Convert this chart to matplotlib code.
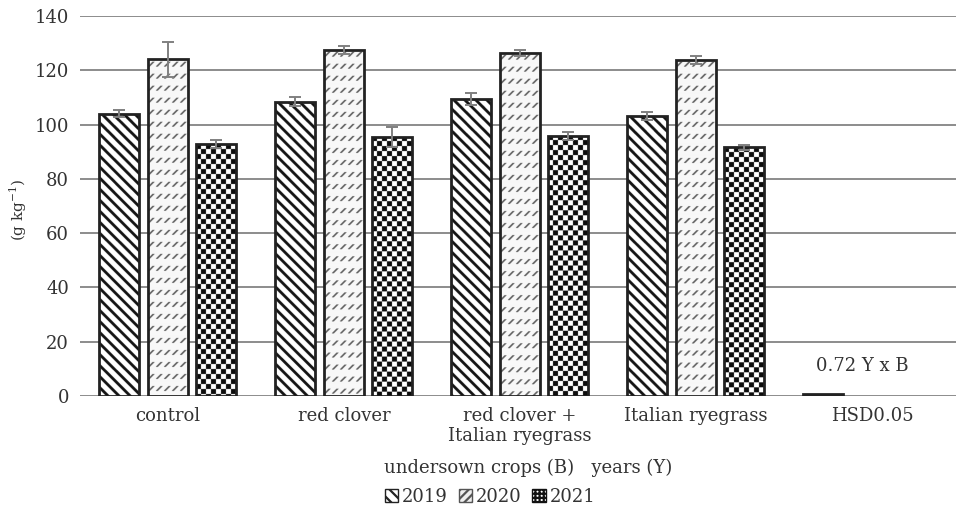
import matplotlib.pyplot as plt
import numpy as np
from matplotlib.patches import Patch

# data
categories = ['control', 'red clover', 'red clover +\nItalian ryegrass',
              'Italian ryegrass', 'HSD0.05']
years = ['2019', '2020', '2021']
mean_2019 = [104.0, 108.5, 109.3, 103.2]
mean_2020 = [124.0, 127.5, 126.5, 123.8]
mean_2021 = [92.8, 95.5, 95.8, 91.6]
err_2019 = [1.2, 1.5, 2.2, 1.5]
err_2020 = [6.3, 1.5, 1.1, 1.5]
err_2021 = [1.5, 3.7, 1.4, 0.9]
hsd_value = 0.72
hsd_label = '0.72 Y x B'

plt.rcParams['font.family'] = ['DejaVu Serif']
plt.rcParams['hatch.linewidth'] = 1.6
TXT = '#333333'
FS = 13


def pattern_image(kind, nx, ny, s):
    # r counts pixels from the top of the bar, c from its left side
    r, c = np.mgrid[0:ny, 0:nx] / s
    if kind == 'stripes':
        img = np.where(((c - r) % 11) < 4.0, 0.08, 1.0)
    elif kind == 'dashes':
        tc = c % 8
        tr = r % 12
        on = (np.abs(tc + tr - 8) < 1.2) & (tr >= 2.5) & (tr <= 7.5)
        img = np.where(on, 0.38, 0.97)
    else:
        img = np.where(((c // 5 + r // 5) % 2) == 0, 0.05, 1.0)
    return img


def fill_bar(ax, bar, kind):
    x0, w, h = bar.get_x(), bar.get_width(), bar.get_height()
    p0 = ax.transData.transform((x0, 0))
    p1 = ax.transData.transform((x0 + w, h))
    s = 3
    nx = max(1, int(round(abs(p1[0] - p0[0]) * s)))
    ny = max(1, int(round(abs(p1[1] - p0[1]) * s)))
    img = pattern_image(kind, nx, ny, s)
    im = ax.imshow(img, extent=(x0, x0 + w, 0, h), origin='upper', cmap='gray',
                   vmin=0, vmax=1, aspect='auto', interpolation='antialiased',
                   zorder=2)
    im.set_clip_path(bar)


fig = plt.figure(figsize=(9.56, 5.12), dpi=100)
ax = fig.add_axes([80 / 956, 116 / 512, 1 - 80 / 956, 380 / 512])
ax.set_xlim(-0.5, 4.477)
ax.set_ylim(0, 140)

x = np.arange(len(mean_2019))
width = 0.227
offsets = [-0.281, 0.0, 0.273]
series = [(mean_2019, err_2019, 'stripes'),
          (mean_2020, err_2020, 'dashes'),
          (mean_2021, err_2021, 'checker')]

for (vals, errs, kind), off in zip(series, offsets):
    bars = ax.bar(x + off, vals, width, facecolor='none', edgecolor='#222222',
                  linewidth=2, zorder=3)
    for b in bars:
        fill_bar(ax, b, kind)
    ax.errorbar(x + off, vals, yerr=errs, fmt='none', ecolor='#808080',
                elinewidth=1.4, capsize=4, capthick=1.4, zorder=4)

# HSD bar
hsd_x = len(mean_2019) + offsets[0]
ax.bar([hsd_x], [hsd_value], width, color='#222222', edgecolor='#222222',
       linewidth=2, zorder=3)
ax.text(len(mean_2019) - 0.057, 11, hsd_label, ha='center', va='center',
        fontsize=FS, color=TXT)

ax.set_xlim(-0.5, 4.477)
ax.set_ylim(0, 140)
ax.set_yticks(np.arange(0, 141, 20))
ax.set_xticks(np.arange(len(categories)))
ax.set_xticklabels(categories, fontsize=FS, color=TXT, linespacing=1.1)
ax.tick_params(axis='y', length=0, pad=8, labelsize=FS, labelcolor=TXT)
ax.tick_params(axis='x', length=0, pad=8)
ax.yaxis.grid(True, color='#6e6e6e', linewidth=1.1)
ax.set_axisbelow(True)
for sp in ax.spines.values():
    sp.set_visible(False)

fig.text(18 / 956, 1 - 210 / 512, '(g kg$^{\\mathregular{-1}}$)', rotation=90,
         ha='center', va='center', fontsize=11, color=TXT)
fig.text(528 / 956, 1 - 468 / 512, 'undersown crops (B)   years (Y)',
         ha='center', va='center', fontsize=FS, color=TXT)

handles = [Patch(facecolor='white', edgecolor='#222222', hatch='\\\\\\'),
           Patch(facecolor='#eeeeee', edgecolor='#555555', hatch='////'),
           Patch(facecolor='white', edgecolor='#111111', hatch='++++')]
fig.legend(handles, years, loc='center', bbox_to_anchor=(490 / 956, 1 - 497 / 512),
           ncol=3, frameon=False, fontsize=FS, handlelength=0.75, handleheight=0.75,
           handletextpad=0.2, columnspacing=0.6, labelcolor=TXT)

fig.savefig('out.png', dpi=100)
